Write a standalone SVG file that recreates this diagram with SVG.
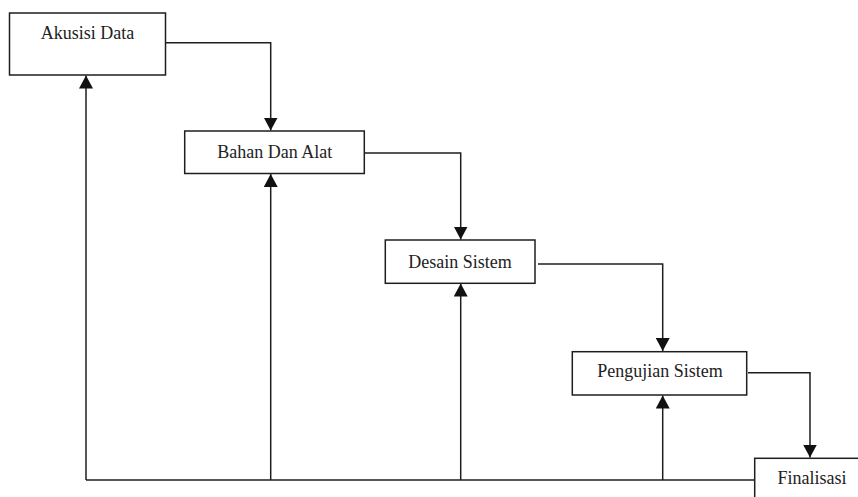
<svg xmlns="http://www.w3.org/2000/svg" width="858" height="497" viewBox="0 0 858 497">
<defs>
<style>
.box{fill:#fff;stroke:#1e1e1e;stroke-width:1.5}
.lbl{font-family:"Liberation Serif","Times New Roman",serif;font-size:18px;fill:#222;text-anchor:middle}
.ln{fill:none;stroke:#1e1e1e;stroke-width:1.5}
.ar{marker-end:url(#ah)}
</style>
<marker id="ah" markerUnits="userSpaceOnUse" markerWidth="14" markerHeight="14" refX="13" refY="7" orient="auto">
<path d="M0,0 L13,7 L0,14 Z" fill="#111"/>
</marker>
</defs>
<rect width="858" height="497" fill="#fff"/>
<g id="connectors">
<polyline class="ln ar" points="164,42.7 270.7,42.7 270.7,130.5"/>
<polyline class="ln ar" points="365,153 460.7,153 460.7,239.5"/>
<polyline class="ln ar" points="538,264 662.7,264 662.7,351"/>
<polyline class="ln ar" points="748,372.7 810,372.7 810,457.5"/>
<polyline class="ln" points="755,480 86,480"/>
<line class="ln ar" x1="86" y1="480" x2="86" y2="75.5"/>
<line class="ln ar" x1="270.7" y1="480" x2="270.7" y2="174"/>
<line class="ln ar" x1="460.7" y1="480" x2="460.7" y2="283.5"/>
<line class="ln ar" x1="662.7" y1="480" x2="662.7" y2="395.5"/>
</g>
<g id="akusisi-data">
<rect class="box" x="9.5" y="13" width="156" height="62"/>
<text class="lbl" x="87.5" y="39.3">Akusisi Data</text>
</g>
<g id="bahan-dan-alat">
<rect class="box" x="184.7" y="131" width="179.6" height="42.5"/>
<text class="lbl" x="274.7" y="157.5">Bahan Dan Alat</text>
</g>
<g id="desain-sistem">
<rect class="box" x="385.3" y="240" width="149.7" height="43.3"/>
<text class="lbl" x="460" y="268.3">Desain Sistem</text>
</g>
<g id="pengujian-sistem">
<rect class="box" x="572.3" y="351.7" width="174.4" height="43.3"/>
<text class="lbl" x="660" y="376.7">Pengujian Sistem</text>
</g>
<g id="finalisasi">
<rect class="box" x="754.7" y="458.3" width="120" height="60"/>
<text class="lbl" x="812" y="484">Finalisasi</text>
</g>
</svg>
